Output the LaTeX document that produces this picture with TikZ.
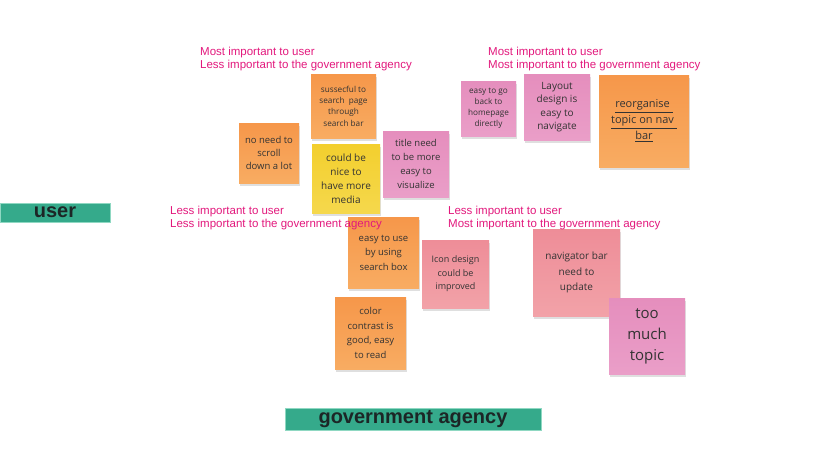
\documentclass[tikz,border=0pt]{standalone}
\usepackage{fontspec}
\setmainfont{Liberation Sans}
\newfontfamily\notefont{Open Sans}
\usetikzlibrary{shadows}

\definecolor{orangetop}{HTML}{F6974A}
\definecolor{orangebot}{HTML}{F8AC62}
\definecolor{yellowtop}{HTML}{F3CF2E}
\definecolor{yellowbot}{HTML}{F5D84C}
\definecolor{pinktop}{HTML}{E58EBD}
\definecolor{pinkbot}{HTML}{EA9EC8}
\definecolor{salmontop}{HTML}{EE8D98}
\definecolor{salmonbot}{HTML}{F2A2A8}
\definecolor{notetext}{HTML}{333333}
\definecolor{quadpink}{HTML}{E2187C}
\definecolor{bargreen}{HTML}{35AA8B}
\definecolor{barline}{HTML}{8FD8C2}
\definecolor{bartext}{HTML}{1C2626}

\begin{document}
\begin{tikzpicture}[x=1pt, y=-1pt,
	note/.style={inner sep=0pt, align=center, text=notetext, drop shadow={shadow xshift=1pt, shadow yshift=-3pt, opacity=.25}},
	orangenote/.style={note, top color=orangetop, bottom color=orangebot},
	yellownote/.style={note, top color=yellowtop, bottom color=yellowbot},
	pinknote/.style={note, top color=pinktop, bottom color=pinkbot},
	salmonnote/.style={note, top color=salmontop, bottom color=salmonbot},
	quad/.style={anchor=north west, inner sep=0pt, align=left, text=quadpink, font=\fontsize{11.5}{13}\selectfont},
	bar/.style={fill=bargreen, draw=barline, line width=.8pt, inner sep=0pt, text=bartext, font=\fontsize{20}{20}\selectfont\bfseries}
	]
	\useasboundingbox (0,0) rectangle (826,474);
	
	% Top left
	\node[orangenote, minimum width=65pt, minimum height=64pt, font=\notefont\fontsize{8.2}{11.3}\selectfont] (searchbar) at (343.5,106) {sussecful to\\search\ \ page\\through\\search bar};
	\node[orangenote, minimum width=60pt, minimum height=60pt, font=\notefont\fontsize{9.5}{13}\selectfont] (scroll) at (269,153) {no need to\\scroll\\down a lot};
	\node[yellownote, minimum width=68pt, minimum height=69pt, font=\notefont\fontsize{10}{14}\selectfont] (media) at (346,178.5) {could be\\nice to\\have more\\media};
	\node[pinknote, minimum width=66pt, minimum height=66pt, font=\notefont\fontsize{9.5}{14}\selectfont] (title) at (416,164) {title need\\to be more\\easy to\\visualize};
	
	% Top right
	\node[pinknote, minimum width=55pt, minimum height=55pt, font=\notefont\fontsize{8.2}{11}\selectfont] (homepage) at (488.5,108.5) {easy to go\\back to\\homepage\\directly};
	\node[pinknote, minimum width=66pt, minimum height=66pt, font=\notefont\fontsize{10}{13.5}\selectfont] (layout) at (557,107) {Layout\\design is\\easy to\\navigate};
	\node[orangenote, minimum width=90pt, minimum height=92pt, font=\notefont\fontsize{11}{16}\selectfont] (navbar) at (644,121) {\underline{reorganise\ }\\\underline{topic on nav\ }\\\underline{bar}};
	
	% Bottom left
	\node[orangenote, minimum width=71pt, minimum height=71pt, font=\notefont\fontsize{9.5}{14.5}\selectfont] (searchbox) at (383.5,252.5) {easy to use\\by using\\search box};
	\node[orangenote, minimum width=71pt, minimum height=72pt, font=\notefont\fontsize{9.5}{14.7}\selectfont] (contrast) at (370.5,333) {color\\contrast is\\good, easy\\to read};
	
	% Bottom right
	\node[salmonnote, minimum width=67pt, minimum height=68pt, font=\notefont\fontsize{9}{13.5}\selectfont] (icon) at (455.5,274) {Icon design\\could be\\improved};
	\node[salmonnote, minimum width=87pt, minimum height=87pt, font=\notefont\fontsize{10}{15.5}\selectfont] (navupdate) at (576.5,272.5) {navigator bar\\need to\\update};
	\node[pinknote, minimum width=76pt, minimum height=76pt, font=\notefont\fontsize{15}{21}\selectfont] (toomuch) at (647,336) {too\\much\\topic};
	
	% Quadrant labels
	\node[quad] (mostless) at (200,46.5) {Most important to user\\Less important to the government agency};
	\node[quad] (mostmost) at (488,46.5) {Most important to user\\Most important to the government agency};
	\node[quad] (lessless) at (170,205.5) {Less important to user\\Less important to the government agency};
	\node[quad] (lessmost) at (448,205.5) {Less important to user\\Most important to the government agency};
	
	% Axes
	\node[bar, minimum width=110pt, minimum height=19pt] (user) at (55,212.5) {user};
	\node[bar, minimum width=256pt, minimum height=22pt] (agency) at (413,419) {government agency};
\end{tikzpicture}
\end{document}
